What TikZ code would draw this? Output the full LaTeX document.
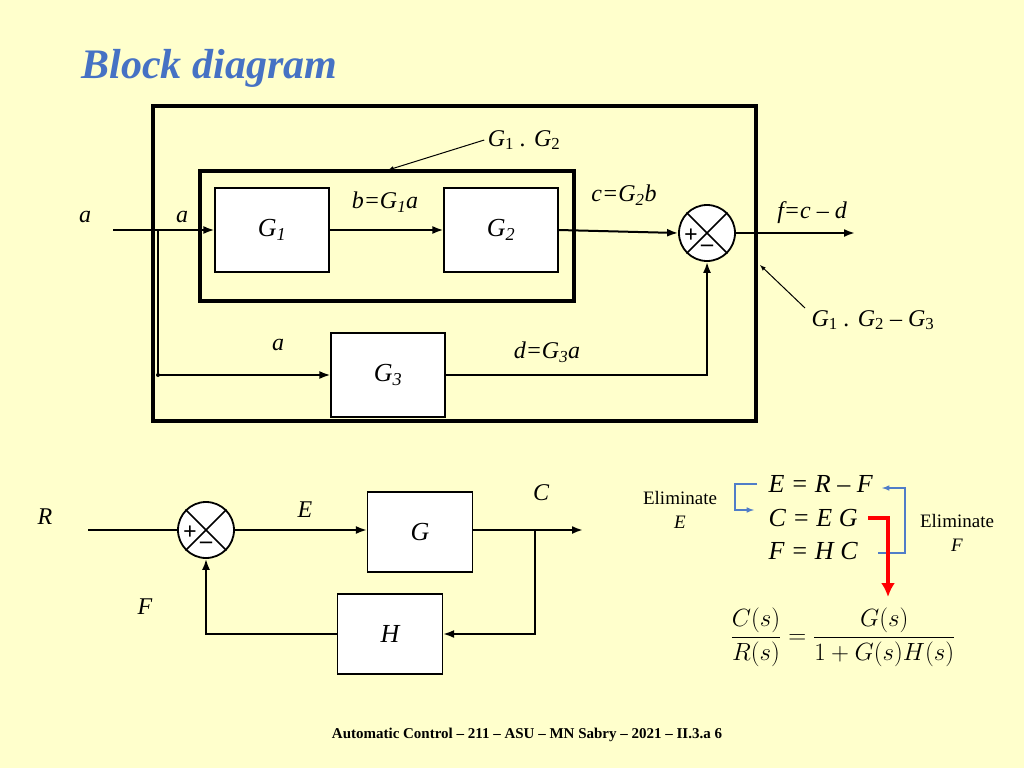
\documentclass[tikz,border=0pt]{standalone}
\usepackage{fontspec}
\setmainfont{Liberation Serif}
\usetikzlibrary{calc,arrows.meta}
\definecolor{bgyellow}{RGB}{255,255,204}
\definecolor{titleblue}{RGB}{70,114,196}
\definecolor{arrblue}{RGB}{80,125,200}
\tikzset{
  blk/.style={draw, line width=1.2pt, fill=white, minimum width=114pt, minimum height=84pt, font=\fontsize{26}{30}\selectfont\itshape},
  sumj/.style={draw, circle, line width=1.8pt, fill=white, minimum size=56pt, inner sep=0pt},
  lbl/.style={font=\fontsize{24}{28}\selectfont\itshape},
  sig/.style={line width=2pt, -{Latex[length=11pt,width=8pt]}},
  wire/.style={line width=2pt},
}
\begin{document}
\begin{tikzpicture}[x=1pt,y=-1pt]
\useasboundingbox[fill=bgyellow] (0,0) rectangle (1024,768);
%
% title and footer
\node[anchor=west, text=titleblue, font=\fontsize{42}{48}\selectfont\bfseries\itshape] (title) at (78,68) {Block diagram};
\node[font=\fontsize{15}{17}\selectfont\bfseries] (foot) at (527,735) {Automatic Control -- 211 -- ASU -- MN Sabry -- 2021 -- II.3.a 6};
%
% upper diagram: frames
\draw[line width=4pt] (153,106) rectangle (756,421);
\draw[line width=4pt] (200,171) rectangle (574,301);
%
% blocks
\node[blk] (g1) at (272,230) {G\textsubscript{1}};
\node[blk] (g2) at (501,230) {G\textsubscript{2}};
\node[blk] (g3) at (388,375) {G\textsubscript{3}};
\node[sumj] (s1) at (707,233) {};
\draw[line width=1.5pt] (s1.45)--(s1.225) (s1.135)--(s1.315);
\node[font=\fontsize{24}{26}\selectfont\bfseries] at (691,236) {+};
\node[font=\fontsize{24}{26}\selectfont\bfseries] at (707,248) {--};
%
% signals
\coordinate (ain) at (113,230);
\coordinate (br1) at (158,230);
\coordinate (br2) at (158,375);
\coordinate (fout) at (855,233);
\draw[sig] (ain) -- (g1);
\draw[wire] (br1) -- (br2);
\draw[sig] (br2) -- (g3);
\draw[sig] (g1) -- (g2);
\draw[sig] (g2.east) -- (s1.west);
\draw[sig] (s1.east) -- (fout);
\draw[sig] (g3.east) -| (s1.south);
\fill (br2) circle (2pt);
%
% labels
\node[lbl] at (85,217) {a};
\node[lbl] at (182,217) {a};
\node[lbl] at (278,345) {a};
\node[lbl] at (385,202) {b=G\textsubscript{1}a};
\node[lbl] at (624,195) {c=G\textsubscript{2}b};
\node[lbl] at (547,352) {d=G\textsubscript{3}a};
\node[lbl] at (812,213) {f=c -- d};
\node[lbl] (lg12) at (524,140) {G\textsubscript{\upshape 1} . G\textsubscript{\upshape 2}};
\node[lbl] (lg123) at (873,320) {G\textsubscript{\upshape 1} . G\textsubscript{\upshape 2} -- G\textsubscript{\upshape 3}};
\draw[line width=1pt, -latex] (lg12.west) -- (388,170);
\draw[line width=1pt, -latex] (805,308) -- (760,265);
%
% lower diagram
\node[blk, minimum width=105pt, minimum height=80pt] (g) at (420,532) {G};
\node[blk, minimum width=105pt, minimum height=80pt] (h) at (390,634) {H};
\node[sumj] (s2) at (206,530) {};
\draw[line width=1.5pt] (s2.45)--(s2.225) (s2.135)--(s2.315);
\node[font=\fontsize{24}{26}\selectfont\bfseries] at (190,533) {+};
\node[font=\fontsize{24}{26}\selectfont\bfseries] at (206,545) {--};
\coordinate (rin) at (88,530);
\coordinate (cout) at (583,530);
\coordinate (br3) at (535,530);
\draw[wire] (rin) -- (s2.west);
\draw[sig] (s2.east) -- (g.west |- s2.east);
\draw[sig] (g.east |- cout) -- (cout);
\draw[sig] (br3) |- (h.east);
\draw[sig] (h.west) -| (s2.south);
\node[lbl] at (45,517) {R};
\node[lbl] at (305,510) {E};
\node[lbl] at (541,493) {C};
\node[lbl] at (145,607) {F};
%
% equations
\node[lbl, anchor=west, font=\fontsize{26}{30}\selectfont\itshape] (e1) at (765,484) {E = R -- F};
\node[lbl, anchor=west, font=\fontsize{26}{30}\selectfont\itshape] (e2) at (765,518) {C = E G};
\node[lbl, anchor=west, font=\fontsize{26}{30}\selectfont\itshape] (e3) at (765,551) {F = H C};
\node[font=\fontsize{19}{24}\selectfont, align=center] (elE) at (680,510) {Eliminate\\\textit{E}};
\node[font=\fontsize{19}{24}\selectfont, align=center] (elF) at (957,533) {Eliminate\\\textit{F}};
\draw[arrblue, line width=1.5pt, -latex] (757,484) -- (735,484) -- (735,510) -- (754,510);
\draw[arrblue, line width=1.5pt, -latex] (878,553) -- (905,553) -- (905,488) -- (882,488);
\draw[red, line width=4pt, -{Latex[length=14pt,width=14pt]}] (868,518) -- (888,518) -- (888,597);
\node[font=\fontsize{30}{36}\selectfont] (tf) at (843,637) {$\displaystyle\frac{C(s)}{R(s)}=\frac{G(s)}{1+G(s)H(s)}$};
\end{tikzpicture}
\end{document}
